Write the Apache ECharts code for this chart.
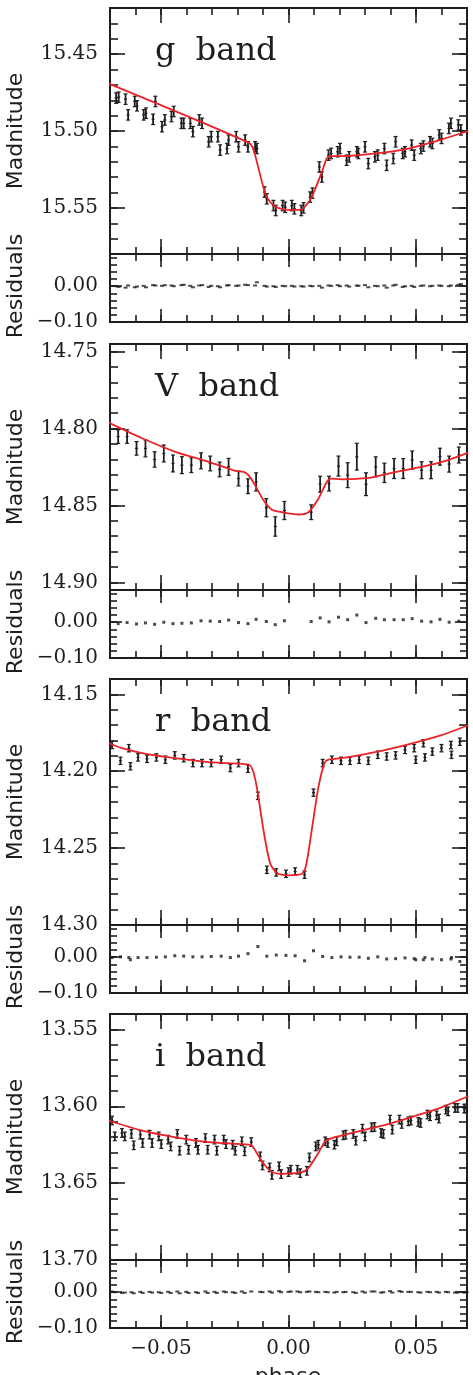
<!DOCTYPE html>
<html>
<head>
<meta charset="utf-8">
<script src="https://cdn.jsdelivr.net/npm/echarts@6/dist/echarts.min.js"></script>
<style>html,body{margin:0;padding:0;background:#fff}#main{width:473px;height:1375px}</style>
</head>
<body>
<div id="main"></div>
<script>
// ---- g band ----
var gPhase = [-0.0676,-0.0666,-0.0639,-0.0629,-0.0603,-0.0594,-0.0568,-0.0559,-0.0531,-0.0522,
  -0.0496,-0.0485,-0.0459,-0.0450,-0.0420,-0.0411,-0.0385,-0.0375,-0.0350,-0.0339,
  -0.0313,-0.0303,-0.0277,-0.0268,-0.0241,-0.0235,-0.0205,-0.0196,-0.0170,-0.0159,
  -0.0131,-0.0124,-0.0094,-0.0085,-0.0059,-0.0050,-0.0023,-0.0013,0.0013,0.0023,
  0.0050,0.0059,0.0085,0.0094,0.0121,0.0131,0.0157,0.0167,0.0193,0.0202,
  0.0228,0.0238,0.0268,0.0274,0.0300,0.0313,0.0339,0.0350,0.0376,0.0385,
  0.0411,0.0420,0.0448,0.0457,0.0483,0.0493,0.0519,0.0529,0.0555,0.0564,
  0.0591,0.0600,0.0629,0.0637,0.0666,0.0676];
var gMag = [15.4786,15.4780,15.4793,15.4895,15.4808,15.4836,15.4895,15.4884,15.4924,15.4808,
  15.4972,15.4928,15.4906,15.4873,15.4950,15.4950,15.4950,15.5004,15.4928,15.4950,
  15.5070,15.5037,15.5037,15.5124,15.5114,15.5059,15.5037,15.5103,15.5059,15.5103,
  15.5103,15.5114,15.5397,15.5441,15.5485,15.5517,15.5485,15.5496,15.5485,15.5506,
  15.5517,15.5500,15.5430,15.5404,15.5234,15.5299,15.5157,15.5146,15.5135,15.5114,
  15.5190,15.5168,15.5135,15.5146,15.5103,15.5212,15.5168,15.5157,15.5114,15.5223,
  15.5179,15.5070,15.5146,15.5135,15.5092,15.5157,15.5114,15.5098,15.5070,15.5081,
  15.5026,15.5048,15.4983,15.4950,15.4961,15.4993];
var gErr = 0.0034;
var gRes = [0.000,-0.002,-0.004,0.002,-0.003,-0.001,0.001,-0.003,0.003,0.002,
  0.001,0.003,0.002,0.000,0.003,0.004,0.001,-0.003,0.002,0.003,
  -0.002,0.001,0.000,-0.003,0.002,0.003,0.001,0.002,0.004,0.003,
  0.002,0.011,0.001,-0.001,0.000,-0.002,0.001,0.000,0.001,-0.001,
  0.000,-0.001,0.001,0.000,0.001,-0.004,0.002,0.001,0.003,0.000,
  0.002,-0.001,0.002,0.001,0.003,-0.003,0.001,0.000,0.002,-0.004,
  0.002,0.004,-0.002,0.000,0.001,-0.002,0.001,0.002,0.000,0.001,
  0.002,0.001,0.000,0.002,0.004,0.006];
var gModelPhase = [-0.0705,-0.0157,-0.0137,-0.0091,-0.0065,-0.0039,0.0000,0.0046,0.0065,0.0091,0.0131,0.0150,0.0163,0.0209,0.0339,0.0470,0.0600,0.0705];
var gModelMag = [15.4692,15.5076,15.5124,15.5408,15.5474,15.5502,15.5513,15.5513,15.5491,15.5430,15.5266,15.5179,15.5164,15.5164,15.5146,15.5114,15.5055,15.5000];

// ---- V band ----
var vPhase = [-0.0668,-0.0633,-0.0596,-0.0561,-0.0525,-0.0489,-0.0453,-0.0418,-0.0381,-0.0343,
  -0.0307,-0.0270,-0.0235,-0.0196,-0.0159,-0.0127,-0.0087,-0.0052,-0.0016,0.0089,
  0.0124,0.0159,0.0196,0.0232,0.0268,0.0304,0.0342,0.0376,0.0414,0.0450,
  0.0485,0.0522,0.0559,0.0594,0.0630,0.0668];
var vMag = [14.8052,14.8052,14.8129,14.8129,14.8201,14.8162,14.8227,14.8238,14.8238,14.8210,
  14.8227,14.8266,14.8249,14.8325,14.8375,14.8347,14.8515,14.8637,14.8533,14.8544,
  14.8362,14.8358,14.8244,14.8303,14.8183,14.8362,14.8249,14.8288,14.8260,14.8260,
  14.8205,14.8271,14.8271,14.8183,14.8231,14.8172];
var vErr = [0.0044,0.0044,0.0044,0.0055,0.0050,0.0055,0.0055,0.0055,0.0048,0.0052,
  0.0048,0.0048,0.0055,0.0048,0.0048,0.0059,0.0059,0.0063,0.0059,0.0048,
  0.0052,0.0048,0.0065,0.0081,0.0087,0.0074,0.0065,0.0063,0.0065,0.0065,
  0.0059,0.0055,0.0055,0.0055,0.0052,0.0052];
var vRes = [-0.004,-0.001,-0.005,-0.002,-0.006,0.000,-0.004,-0.003,-0.002,0.004,
  0.003,0.002,0.006,-0.001,-0.004,0.008,0.002,-0.007,0.004,0.002,
  0.012,0.001,0.014,0.007,0.020,-0.001,0.011,0.007,0.007,0.007,
  0.010,0.003,0.001,0.008,0.000,0.003];
var vModelPhase = [-0.0705,-0.0574,-0.0444,-0.0313,-0.0209,-0.0176,-0.0157,-0.0131,-0.0098,-0.0065,-0.0026,0.0039,0.0078,0.0117,0.0150,0.0167,0.0209,0.0313,0.0405,0.0535,0.0626,0.0705];
var vModelMag = [14.7961,14.8063,14.8151,14.8216,14.8275,14.8282,14.8303,14.8369,14.8467,14.8528,14.8544,14.8559,14.8544,14.8456,14.8347,14.8325,14.8330,14.8321,14.8288,14.8245,14.8205,14.8157];

// ---- r band ----
var rPhase = [-0.0692,-0.0659,-0.0626,-0.0620,-0.0590,-0.0555,-0.0518,-0.0483,-0.0446,-0.0411,
  -0.0375,-0.0339,-0.0303,-0.0264,-0.0228,-0.0196,-0.0159,-0.0120,-0.0085,-0.0048,
  -0.0010,0.0026,0.0063,0.0098,0.0134,0.0170,0.0206,0.0241,0.0277,0.0313,
  0.0350,0.0385,0.0420,0.0457,0.0493,0.0499,0.0529,0.0535,0.0564,0.0600,
  0.0637,0.0639,0.0672];
var rMag = [14.1829,14.1932,14.1850,14.1968,14.1910,14.1919,14.1910,14.1925,14.1897,14.1915,
  14.1947,14.1947,14.1947,14.1925,14.1979,14.1947,14.1983,14.2160,14.2641,14.2658,
  14.2667,14.2652,14.2673,14.2139,14.1947,14.1925,14.1932,14.1932,14.1925,14.1932,
  14.1893,14.1904,14.1897,14.1861,14.1850,14.1925,14.1818,14.1910,14.1872,14.1850,
  14.1829,14.1893,14.1808];
var rErr = 0.0024;
var rRes = [-0.001,0.001,-0.001,-0.007,-0.001,-0.001,0.000,0.001,0.004,0.003,
  0.001,0.001,0.002,0.003,-0.001,0.003,0.010,0.030,0.003,0.006,
  0.005,0.004,-0.010,0.018,0.002,-0.001,0.001,0.000,0.000,-0.003,
  0.001,-0.005,-0.004,-0.002,-0.004,-0.007,-0.007,-0.001,-0.005,-0.007,
  -0.005,-0.001,-0.012];
var rModelPhase = [-0.0705,-0.0653,-0.0574,-0.0444,-0.0313,-0.0157,-0.0141,-0.0124,-0.0098,-0.0072,-0.0046,0.0000,0.0052,0.0068,0.0091,0.0117,0.0141,0.0157,0.0209,0.0339,0.0470,0.0600,0.0705];
var rModelMag = [14.1818,14.1850,14.1882,14.1915,14.1940,14.1957,14.1989,14.2107,14.2385,14.2598,14.2662,14.2677,14.2667,14.2620,14.2385,14.2107,14.1947,14.1925,14.1915,14.1876,14.1825,14.1765,14.1701];

// ---- i band ----
var iPhase = [-0.0692,-0.0681,-0.0653,-0.0642,-0.0616,-0.0607,-0.0581,-0.0572,-0.0545,-0.0535,
  -0.0509,-0.0499,-0.0472,-0.0462,-0.0436,-0.0427,-0.0401,-0.0392,-0.0363,-0.0355,
  -0.0326,-0.0317,-0.0290,-0.0281,-0.0254,-0.0245,-0.0219,-0.0209,-0.0183,-0.0172,
  -0.0146,-0.0111,-0.0102,-0.0074,-0.0065,-0.0037,-0.0029,0.0000,0.0009,0.0035,
  0.0046,0.0072,0.0082,0.0107,0.0117,0.0144,0.0154,0.0180,0.0189,0.0215,
  0.0224,0.0254,0.0264,0.0290,0.0300,0.0326,0.0337,0.0363,0.0372,0.0398,
  0.0407,0.0435,0.0444,0.0470,0.0480,0.0509,0.0518,0.0545,0.0555,0.0581,
  0.0590,0.0617,0.0626,0.0653,0.0663,0.0689,0.0698];
var iMag = [13.6093,13.6196,13.6174,13.6196,13.6180,13.6254,13.6185,13.6239,13.6185,13.6239,
  13.6196,13.6246,13.6217,13.6261,13.6180,13.6289,13.6217,13.6283,13.6239,13.6283,
  13.6207,13.6283,13.6217,13.6289,13.6217,13.6246,13.6250,13.6289,13.6228,13.6293,
  13.6233,13.6326,13.6385,13.6398,13.6446,13.6391,13.6441,13.6428,13.6413,13.6413,
  13.6435,13.6420,13.6333,13.6261,13.6250,13.6228,13.6239,13.6250,13.6228,13.6189,
  13.6185,13.6180,13.6224,13.6146,13.6196,13.6137,13.6135,13.6174,13.6180,13.6087,
  13.6152,13.6087,13.6115,13.6098,13.6093,13.6102,13.6109,13.6054,13.6065,13.6059,
  13.6080,13.6022,13.6033,13.6011,13.6011,13.6015,13.6015];
var iErr = 0.0028;
var iRes = [0.002,0.000,-0.002,-0.001,0.000,-0.003,0.001,-0.002,0.001,-0.001,
  0.000,-0.002,0.001,-0.002,0.002,-0.003,0.001,-0.002,0.000,-0.002,
  0.002,-0.002,0.001,-0.002,0.002,0.000,0.000,-0.002,0.002,-0.002,
  0.002,0.001,0.000,0.002,-0.001,0.003,0.000,0.001,0.002,0.002,
  0.000,0.001,0.002,0.001,0.000,0.001,0.000,-0.001,0.001,0.000,
  0.001,0.000,-0.002,0.002,-0.001,0.002,0.002,-0.001,0.000,0.003,
  -0.001,0.003,0.001,0.001,0.001,0.000,-0.001,0.001,0.000,0.001,
  -0.001,0.001,0.000,-0.001,-0.001,-0.001,0.000];
var iModelPhase = [-0.0705,-0.0574,-0.0444,-0.0313,-0.0157,-0.0141,-0.0104,-0.0065,-0.0026,0.0052,0.0078,0.0117,0.0144,0.0170,0.0274,0.0405,0.0535,0.0600,0.0705];
var iModelMag = [13.6093,13.6159,13.6202,13.6233,13.6250,13.6261,13.6359,13.6428,13.6439,13.6428,13.6402,13.6304,13.6228,13.6207,13.6163,13.6109,13.6043,13.6007,13.5935];

// ---- ticks ----
var gTicks = [15.45, 15.50, 15.55];
var vTicks = [14.75, 14.80, 14.85, 14.90];
var rTicks = [14.15, 14.20, 14.25, 14.30];
var iTicks = [13.55, 13.60, 13.65, 13.70];
var resTicks = [-0.10, 0.00];
var phaseTicks = [-0.05, 0.00, 0.05];

var ink = '#1e1e1e';
var red = '#ec2227';
var panelTop = [8, 344, 679, 1014];
var mainH = 246, resH = 68;

var bands = [
  {label: 'g  band', ph: gPhase, mag: gMag, err: gErr, mPh: gModelPhase, mMag: gModelMag, res: gRes, min: 15.42, max: 15.58, ticks: gTicks, dot: [4, 2]},
  {label: 'V  band', ph: vPhase, mag: vMag, err: vErr, mPh: vModelPhase, mMag: vModelMag, res: vRes, min: 14.745, max: 14.905, ticks: vTicks, dot: [3, 3]},
  {label: 'r  band', ph: rPhase, mag: rMag, err: rErr, mPh: rModelPhase, mMag: rModelMag, res: rRes, min: 14.14, max: 14.30, ticks: rTicks, dot: [3, 3]},
  {label: 'i  band', ph: iPhase, mag: iMag, err: iErr, mPh: iModelPhase, mMag: iModelMag, res: iRes, min: 13.54, max: 13.70, ticks: iTicks, dot: [4, 2]}
];

function steps(lo, hi, step) {
  var out = [];
  for (var k = Math.ceil(lo / step - 1e-6); k * step <= hi + 1e-9; k++) out.push(+(k * step).toFixed(4));
  return out;
}
function fmt(v) { return v.toFixed(2).replace('-', '\u2212'); }

var phaseMinor = steps(-0.07, 0.07, 0.01);
var resMinor = steps(-0.09, 0.09, 0.02);

function axis(gi, pos, min, max, inverse, vals, len, labelVals, margin) {
  return {
    type: 'value', gridIndex: gi, position: pos, min: min, max: max, inverse: !!inverse,
    axisLine: {show: false, onZero: false},
    splitLine: {show: false},
    axisTick: {show: true, inside: true, length: len, customValues: vals, lineStyle: {color: ink, width: 1.6}},
    axisLabel: labelVals ? {show: true, customValues: labelVals, formatter: fmt, margin: margin,
      color: ink, fontFamily: 'DejaVu Serif', fontSize: 20} : {show: false}
  };
}

var grids = [], xAxes = [], yAxes = [], series = [], graphics = [];

bands.forEach(function (b, p) {
  var top = panelTop[p];
  var gm = grids.length;
  grids.push({left: 110, right: 6, top: top, height: mainH, show: true, borderColor: ink, borderWidth: 2});
  grids.push({left: 110, right: 6, top: top + mainH, height: resH, show: true, borderColor: ink, borderWidth: 2});
  var gr = gm + 1;
  var last = p === bands.length - 1;

  // main panel axes
  xAxes.push(axis(gm, 'bottom', -0.07, 0.07, false, phaseTicks, 15, null));
  xAxes.push(axis(gm, 'bottom', -0.07, 0.07, false, phaseMinor, 7, null));
  xAxes.push(axis(gm, 'top', -0.07, 0.07, false, phaseTicks, 15, null));
  xAxes.push(axis(gm, 'top', -0.07, 0.07, false, phaseMinor, 7, null));
  var minorY = steps(b.min, b.max, 0.01);
  yAxes.push(axis(gm, 'left', b.min, b.max, true, b.ticks, 15, b.ticks, 12));
  yAxes.push(axis(gm, 'left', b.min, b.max, true, minorY, 8, null));
  yAxes.push(axis(gm, 'right', b.min, b.max, true, b.ticks, 15, null));
  yAxes.push(axis(gm, 'right', b.min, b.max, true, minorY, 8, null));

  // residual panel axes
  xAxes.push(axis(gr, 'bottom', -0.07, 0.07, false, phaseTicks, 13, last ? phaseTicks : null, 11));
  xAxes.push(axis(gr, 'bottom', -0.07, 0.07, false, phaseMinor, 7, null));
  xAxes.push(axis(gr, 'top', -0.07, 0.07, false, phaseTicks, 13, null));
  xAxes.push(axis(gr, 'top', -0.07, 0.07, false, phaseMinor, 7, null));
  yAxes.push(axis(gr, 'left', -0.10, 0.09, false, resTicks, 12, resTicks, 12));
  yAxes.push(axis(gr, 'left', -0.10, 0.09, false, resMinor, 7, null));
  yAxes.push(axis(gr, 'right', -0.10, 0.09, false, resTicks, 12, null));
  yAxes.push(axis(gr, 'right', -0.10, 0.09, false, resMinor, 7, null));

  var errData = b.ph.map(function (x, i) {
    return [x, b.mag[i], Array.isArray(b.err) ? b.err[i] : b.err];
  });
  series.push({
    type: 'custom', xAxisIndex: gm * 4, yAxisIndex: gm * 4, clip: true, z: 2,
    data: errData, encode: {x: 0, y: 1},
    renderItem: function (params, api) {
      var x = api.value(0), y = api.value(1), e = api.value(2);
      var a = api.coord([x, y - e]), c = api.coord([x, y + e]), m = api.coord([x, y]);
      var st = {stroke: ink, lineWidth: 1.8};
      var cap = {stroke: ink, lineWidth: 1.2};
      return {type: 'group', children: [
        {type: 'line', shape: {x1: a[0], y1: a[1], x2: c[0], y2: c[1]}, style: st},
        {type: 'line', shape: {x1: a[0] - 2, y1: a[1], x2: a[0] + 2, y2: a[1]}, style: cap},
        {type: 'line', shape: {x1: c[0] - 2, y1: c[1], x2: c[0] + 2, y2: c[1]}, style: cap},
        {type: 'line', shape: {x1: m[0] - 1.5, y1: m[1], x2: m[0] + 1.5, y2: m[1]}, style: cap}
      ]};
    }
  });
  series.push({
    type: 'line', xAxisIndex: gm * 4, yAxisIndex: gm * 4, z: 3,
    data: b.mPh.map(function (x, i) { return [x, b.mMag[i]]; }),
    showSymbol: false, symbol: 'none', smooth: 0.25, clip: true,
    lineStyle: {color: red, width: 1.8}
  });
  series.push({
    type: 'scatter', xAxisIndex: gr * 4, yAxisIndex: gr * 4,
    data: b.ph.map(function (x, i) { return [x, b.res[i]]; }),
    symbol: 'rect', symbolSize: b.dot, itemStyle: {color: ink}
  });

  graphics.push({type: 'text', left: 155, top: top + 28,
    style: {text: b.label, fill: ink, font: '32px "DejaVu Serif"'}});
  graphics.push({type: 'text', x: 16, y: top + mainH / 2, rotation: Math.PI / 2,
    style: {text: 'Madnitude', fill: ink, font: '22px "DejaVu Sans"', align: 'center', verticalAlign: 'middle'}});
  graphics.push({type: 'text', x: 16, y: top + mainH + resH / 2 - 2, rotation: Math.PI / 2,
    style: {text: 'Residuals', fill: ink, font: '22px "DejaVu Sans"', align: 'center', verticalAlign: 'middle'}});
});

graphics.push({type: 'text', x: 288, y: 1366,
  style: {text: 'phase', fill: ink, font: '22px "DejaVu Sans"', align: 'center', verticalAlign: 'top'}});

var myChart = echarts.init(document.getElementById('main'));
myChart.setOption({
  animation: false,
  backgroundColor: '#fff',
  grid: grids,
  xAxis: xAxes,
  yAxis: yAxes,
  series: series,
  graphic: graphics
});
</script>
</body>
</html>
